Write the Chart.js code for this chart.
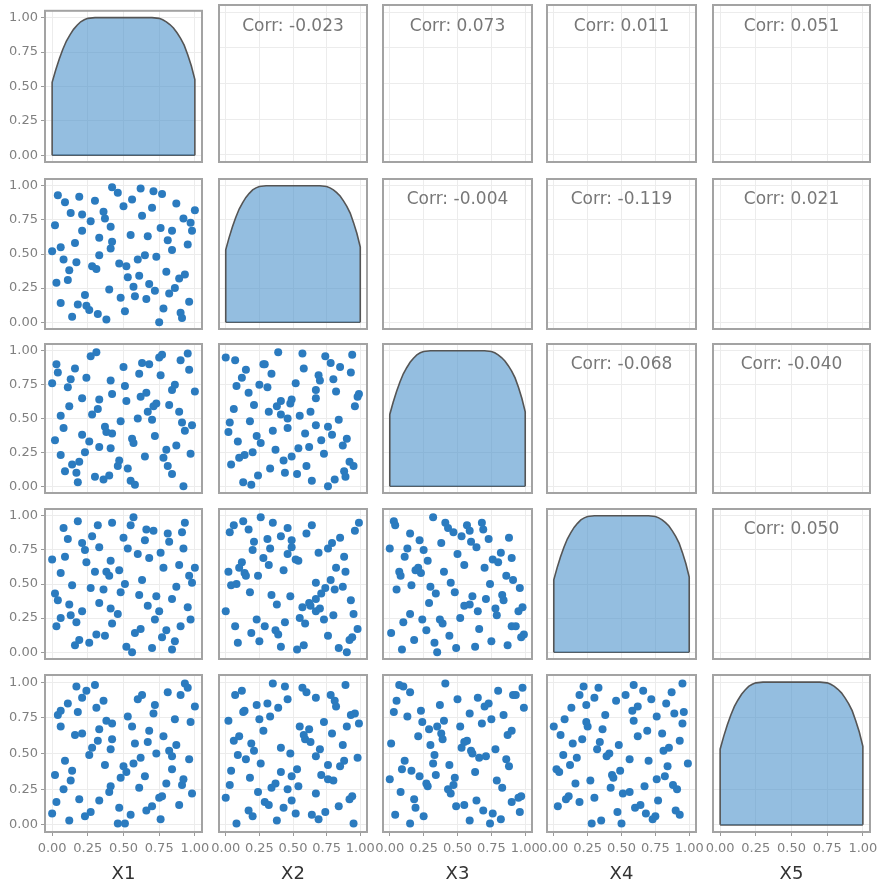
<!DOCTYPE html>
<html>
<head>
<meta charset="utf-8">
<script src="https://cdn.jsdelivr.net/npm/chart.js"></script>
<style>
    html, body { margin: 0; padding: 0; background: #fff; }
    #matrix { position: relative; width: 885px; height: 886px; overflow: hidden; }
    #matrix canvas { position: absolute; }
</style>
</head>
<body>
<div id="matrix"></div>
<script>
const varNames = ['X1', 'X2', 'X3', 'X4', 'X5'];

const X1 = [0.00,0.02,0.03,0.04,0.06,0.06,0.08,0.09,0.11,0.12, 0.13,0.14,0.16,0.17,0.18,0.19,0.21,0.21,0.23,0.24,
            0.26,0.27,0.28,0.30,0.31,0.32,0.33,0.33,0.36,0.37, 0.38,0.40,0.41,0.41,0.42,0.42,0.46,0.47,0.48,0.50,
            0.51,0.52,0.53,0.55,0.56,0.57,0.58,0.60,0.61,0.62, 0.63,0.65,0.66,0.67,0.68,0.70,0.71,0.72,0.73,0.75,
            0.76,0.77,0.78,0.80,0.81,0.82,0.84,0.84,0.86,0.87, 0.89,0.90,0.91,0.92,0.93,0.95,0.96,0.97,0.98,1.00];
const X2 = [0.52,0.71,0.29,0.93,0.55,0.14,0.46,0.88,0.31,0.38, 0.80,0.04,0.58,0.44,0.13,0.92,0.79,0.67,0.20,0.12,
            0.09,0.74,0.41,0.89,0.39,0.06,0.62,0.49,0.81,0.76, 0.02,0.24,0.70,0.54,0.99,0.59,0.95,0.43,0.18,0.85,
            0.08,0.41,0.33,0.64,0.90,0.26,0.19,0.46,0.34,0.98, 0.78,0.49,0.17,0.63,0.28,0.84,0.96,0.23,0.48,0.00,
            0.69,0.94,0.10,0.37,0.60,0.21,0.67,0.53,0.25,0.87, 0.32,0.07,0.03,0.76,0.35,0.57,0.15,0.73,0.67,0.82];
const X3 = [0.76,0.34,0.90,0.84,0.52,0.23,0.43,0.11,0.73,0.59, 0.79,0.16,0.87,0.10,0.03,0.18,0.38,0.65,0.25,0.80,
            0.33,0.96,0.53,0.07,0.99,0.57,0.29,0.64,0.05,0.44, 0.40,0.08,0.78,0.28,0.68,0.39,0.15,0.19,0.48,0.88,
            0.74,0.63,0.13,0.04,0.35,0.32,0.01,0.50,0.83,0.66, 0.91,0.22,0.69,0.55,0.90,0.49,0.59,0.37,0.61,0.95,
            0.82,0.97,0.21,0.27,0.15,0.60,0.71,0.09,0.75,0.30, 0.55,0.93,0.47,0.00,0.41,0.98,0.86,0.24,0.45,0.70];
const X4 = [0.68,0.43,0.19,0.38,0.25,0.58,0.91,0.70,0.83,0.35, 0.27,0.49,0.05,0.22,0.96,0.09,0.80,0.30,0.75,0.66,
            0.07,0.47,0.85,0.59,0.13,0.93,0.36,0.77,0.46,0.12, 0.59,0.56,0.32,0.67,0.95,0.21,0.28,0.60,0.44,0.84,
            0.50,0.04,0.76,0.93,0.00,0.99,0.14,0.72,0.42,0.17, 0.53,0.82,0.90,0.34,0.69,0.03,0.89,0.24,0.41,0.30,
            0.73,0.11,0.62,0.16,0.87,0.81,0.39,0.02,0.08,0.48, 0.64,0.19,0.88,0.76,0.95,0.33,0.56,0.24,0.51,0.62];
const X5 = [0.08,0.35,0.16,0.77,0.69,0.80,0.25,0.45,0.85,0.03, 0.31,0.38,0.63,0.97,0.79,0.18,0.64,0.89,0.06,0.94,
            0.49,0.09,0.54,0.98,0.82,0.59,0.67,0.17,0.87,0.42, 0.73,0.23,0.53,0.27,0.71,0.60,0.01,0.12,0.33,0.41,
            0.01,0.37,0.76,0.07,0.69,0.43,0.57,0.88,0.26,0.47, 0.91,0.34,0.10,0.58,0.66,0.13,0.78,0.84,0.50,0.19,
            0.04,0.20,0.62,0.29,0.93,0.52,0.48,0.39,0.74,0.56, 0.14,0.91,0.28,0.32,0.99,0.96,0.46,0.72,0.22,0.83];
const series = [X1, X2, X3, X4, X5];

// upper triangle correlations, one array per row
const corrRow1 = [-0.023, 0.073, 0.011, 0.051];
const corrRow2 = [-0.004, -0.119, 0.021];
const corrRow3 = [-0.068, -0.040];
const corrRow4 = [0.050];
const corrRows = [corrRow1, corrRow2, corrRow3, corrRow4];

// diagonal density curve (scaled to the panel range)
const densX = [0, 0.025, 0.05, 0.075, 0.1, 0.125, 0.15, 0.175, 0.2, 0.225, 0.25, 0.3, 0.5, 0.7,
               0.75, 0.775, 0.8, 0.825, 0.85, 0.875, 0.9, 0.925, 0.95, 0.975, 1];
const densY = [0.53, 0.62, 0.70, 0.77, 0.83, 0.875, 0.915, 0.945, 0.97, 0.985, 0.995, 1.0, 1.0, 1.0,
               0.995, 0.985, 0.97, 0.95, 0.925, 0.89, 0.85, 0.80, 0.73, 0.65, 0.55];

const tickValues = [0, 0.25, 0.5, 0.75, 1];

// panel boxes on the page
const colL = [45, 219, 383, 547, 713], colR = [202, 367, 532, 696, 870];
const rowT = [5, 179, 344, 509, 675], rowB = [162, 329, 493, 659, 832];
const MARGIN = 20, YAXIS_W = 45, XAXIS_H = 54;
const FONT = '"DejaVu Sans", Verdana, sans-serif';

const panelFrame = {
    id: 'panelFrame',
    afterDraw(chart, args, opts) {
        const { ctx, chartArea: a } = chart;
        ctx.save();
        if (opts.label) {
            ctx.font = '17px ' + FONT;
            ctx.fillStyle = '#777';
            ctx.textAlign = 'center';
            ctx.textBaseline = 'middle';
            ctx.fillText(opts.label, (a.left + a.right) / 2, a.top + 0.14 * (a.bottom - a.top));
        }
        ctx.strokeStyle = '#a3a3a3';
        ctx.lineWidth = 2;
        ctx.strokeRect(a.left, a.top, a.right - a.left, a.bottom - a.top);
        ctx.restore();
    }
};

const holder = document.getElementById('matrix');

function axisOptions(isX, edge, title) {
    return {
        type: 'linear',
        min: -0.05,
        max: 1.05,
        afterBuildTicks: s => { s.ticks = tickValues.map(v => ({ value: v })); },
        afterFit: s => {
            if (isX) s.height = edge ? XAXIS_H : 0;
            else s.width = edge ? YAXIS_W : 0;
        },
        grid: { color: '#ececec', lineWidth: 1, drawTicks: edge, tickLength: 4, tickColor: '#9a9a9a' },
        border: { display: false },
        ticks: {
            display: edge,
            autoSkip: false,
            maxRotation: 0,
            minRotation: 0,
            padding: isX ? 5 : 3,
            color: '#808080',
            font: { family: FONT, size: 13 },
            callback: v => v.toFixed(2)
        },
        title: {
            display: isX && edge,
            text: title,
            color: '#333',
            font: { family: FONT, size: 18 },
            padding: { top: 0, bottom: 1 }
        }
    };
}

for (let r = 0; r < 5; r++) {
    for (let c = 0; c < 5; c++) {
        const padL = c === 0 ? 0 : MARGIN;
        const axisW = c === 0 ? YAXIS_W : 0;
        const padT = r === 0 ? 5 : MARGIN;
        const axisH = r === 4 ? XAXIS_H : 0;
        const padB = r === 4 ? 0 : MARGIN;
        const left = colL[c] - axisW - padL;
        const top = rowT[r] - padT;
        const w = colR[c] + MARGIN - left;
        const h = rowB[r] + axisH + padB - top;

        const canvas = document.createElement('canvas');
        canvas.width = w;
        canvas.height = h;
        canvas.style.left = left + 'px';
        canvas.style.top = top + 'px';
        canvas.style.width = w + 'px';
        canvas.style.height = h + 'px';
        holder.appendChild(canvas);

        let datasets = [];
        let label = null;
        if (r > c) {
            datasets.push({
                data: series[c].map((v, i) => ({ x: v, y: series[r][i] })),
                backgroundColor: '#2b7bbf',
                borderWidth: 0,
                pointRadius: 4
            });
        } else if (r === c) {
            const pts = [{ x: 0, y: 0 }].concat(densX.map((v, i) => ({ x: v, y: densY[i] })));
            pts.push({ x: 1, y: 0 });
            datasets.push({
                data: pts,
                showLine: true,
                fill: 'origin',
                tension: 0,
                pointRadius: 0,
                borderColor: '#555',
                borderWidth: 1.6,
                backgroundColor: 'rgba(77, 147, 203, 0.6)'
            });
            // bottom edge of the density outline
            datasets.push({
                data: [{ x: 0, y: 0 }, { x: 1, y: 0 }],
                showLine: true,
                fill: false,
                pointRadius: 0,
                borderColor: '#555',
                borderWidth: 1.6
            });
        } else {
            label = 'Corr: ' + corrRows[r][c - r - 1].toFixed(3);
        }

        new Chart(canvas.getContext('2d'), {
            type: 'scatter',
            data: { datasets },
            options: {
                responsive: false,
                animation: false,
                devicePixelRatio: 1,
                layout: { padding: { left: padL, right: MARGIN, top: padT, bottom: padB } },
                scales: {
                    x: axisOptions(true, r === 4, varNames[c]),
                    y: axisOptions(false, c === 0, varNames[r])
                },
                plugins: {
                    legend: { display: false },
                    tooltip: { enabled: false },
                    panelFrame: { label }
                }
            },
            plugins: [panelFrame]
        });
    }
}
</script>
</body>
</html>
